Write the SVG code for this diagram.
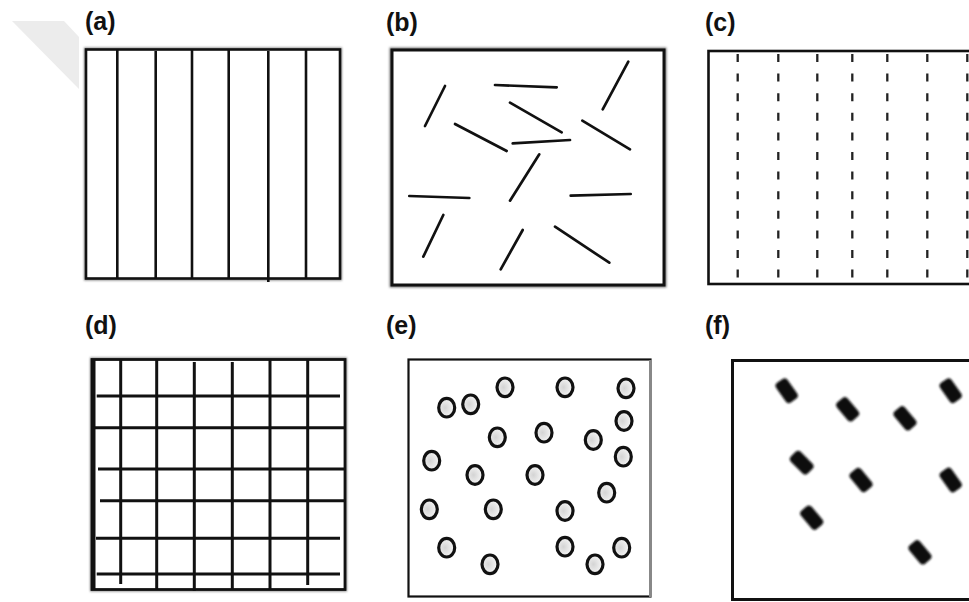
<svg xmlns="http://www.w3.org/2000/svg" width="969" height="602" viewBox="0 0 969 602">
<defs>
<style>
.lbl{font-family:"Liberation Sans",Arial,sans-serif;font-weight:bold;font-size:25px;fill:#111}
.frame{fill:#fff;stroke:#111}
.ln{stroke:#111;stroke-width:2.6;stroke-linecap:butt;fill:none}
.gl{stroke:#111;stroke-width:3;fill:none}
.fib{stroke:#111;stroke-width:2.7;stroke-linecap:round}
.dash{stroke:#222;stroke-width:2.3;stroke-dasharray:8 11.6}
.ring{stroke:#111;stroke-width:3.2}
.blob{fill:#111}
</style>
<filter id="soft" x="-50%" y="-50%" width="200%" height="200%"><feGaussianBlur stdDeviation="1.1"/></filter>
<filter id="shadow" x="-5%" y="-5%" width="110%" height="110%"><feGaussianBlur stdDeviation="1.2"/></filter>
<radialGradient id="rg" cx="0.4" cy="0.5" r="0.6"><stop offset="0" stop-color="#d4d4d4"/><stop offset="1" stop-color="#f8f8f8"/></radialGradient>
</defs>
<rect width="969" height="602" fill="#fff"/>
<polygon points="12,21 64,21 79,37 79,89" fill="#ececec"/>

<g id="panel-a">
<text class="lbl" x="85" y="30">(a)</text>
<rect x="86" y="49.5" width="254" height="229" fill="none" stroke="#888" stroke-width="4" filter="url(#shadow)"/>
<rect class="frame" x="86" y="49.5" width="254" height="229" stroke-width="2.6"/>
<g class="ln">
<line x1="117.3" y1="49.5" x2="117.3" y2="279"/>
<line x1="155.7" y1="51" x2="155.7" y2="279"/>
<line x1="192" y1="49.5" x2="192" y2="279"/>
<line x1="228.7" y1="49.5" x2="228.7" y2="279"/>
<line x1="268.3" y1="51" x2="268.3" y2="282"/>
<line x1="306" y1="49.5" x2="306" y2="279"/>
</g>
</g>

<g id="panel-b">
<text class="lbl" x="386" y="31">(b)</text>
<rect x="392" y="50" width="272" height="235" fill="none" stroke="#777" stroke-width="5" filter="url(#shadow)"/>
<rect class="frame" x="392" y="50" width="272" height="235" stroke-width="3"/>
<g class="fib">
<line x1="425" y1="126" x2="445" y2="86"/>
<line x1="495" y1="85" x2="556.7" y2="87.3"/>
<line x1="602.7" y1="109.3" x2="628.3" y2="61.7"/>
<line x1="510" y1="102.7" x2="561.7" y2="132.3"/>
<line x1="455" y1="124" x2="506.7" y2="151"/>
<line x1="512.7" y1="143.3" x2="570" y2="140"/>
<line x1="582.3" y1="120.7" x2="630" y2="149.3"/>
<line x1="539.3" y1="154.3" x2="510" y2="200.7"/>
<line x1="409.3" y1="196" x2="469.3" y2="198"/>
<line x1="570.7" y1="195.7" x2="630.7" y2="194"/>
<line x1="443.3" y1="215" x2="423.3" y2="256.7"/>
<line x1="522.7" y1="230" x2="500.7" y2="269.3"/>
<line x1="555" y1="226.7" x2="609.3" y2="262.7"/>
</g>
</g>

<g id="panel-c">
<text class="lbl" x="705" y="31">(c)</text>
<rect class="frame" x="708.5" y="51" width="270" height="233" stroke-width="2.6"/>
<g class="dash">
<line x1="737.7" y1="54" x2="737.7" y2="278"/>
<line x1="778.3" y1="54" x2="778.3" y2="278"/>
<line x1="817.3" y1="54" x2="817.3" y2="278"/>
<line x1="852.3" y1="54" x2="852.3" y2="278"/>
<line x1="887.3" y1="54" x2="887.3" y2="278"/>
<line x1="927.3" y1="54" x2="927.3" y2="278"/>
<line x1="967.3" y1="54" x2="967.3" y2="278"/>
</g>
</g>

<g id="panel-d">
<text class="lbl" x="85" y="334">(d)</text>
<rect x="92" y="359.5" width="253" height="230" fill="none" stroke="#888" stroke-width="4" filter="url(#shadow)"/>
<rect class="frame" x="92" y="359.5" width="253" height="230" stroke-width="2.8"/>
<line x1="93.5" y1="360" x2="93.5" y2="589" stroke="#111" stroke-width="4"/>
<g class="gl">
<line x1="120.7" y1="359.5" x2="120.7" y2="584"/>
<line x1="156.7" y1="359.5" x2="156.7" y2="589"/>
<line x1="194.3" y1="362" x2="194.3" y2="591"/>
<line x1="232.3" y1="362" x2="232.3" y2="589"/>
<line x1="270" y1="359.5" x2="270" y2="589"/>
<line x1="307.7" y1="359.5" x2="307.7" y2="585"/>
<line x1="96.7" y1="396" x2="340" y2="396"/>
<line x1="92" y1="427.7" x2="345" y2="427.7"/>
<line x1="98" y1="469" x2="345" y2="469"/>
<line x1="100" y1="500.7" x2="345" y2="500.7"/>
<line x1="96" y1="538.3" x2="340" y2="538.3"/>
<line x1="96.7" y1="574" x2="340" y2="574"/>
</g>
</g>

<g id="panel-e">
<text class="lbl" x="386" y="334">(e)</text>
<rect class="frame" x="408.5" y="359.5" width="242" height="237" stroke-width="2.2"/>
<line x1="650.5" y1="360" x2="650.5" y2="597" stroke="#888" stroke-width="3"/>
<g class="ring" fill="url(#rg)">
<ellipse cx="446.7" cy="407.7" rx="8" ry="9.3"/>
<ellipse cx="470.7" cy="404.3" rx="8" ry="9.3"/>
<ellipse cx="505" cy="387.3" rx="8" ry="9.3"/>
<ellipse cx="565" cy="387.3" rx="8" ry="9.3"/>
<ellipse cx="626" cy="388.3" rx="8" ry="9.3"/>
<ellipse cx="497.3" cy="437.3" rx="8" ry="9.3"/>
<ellipse cx="544" cy="432.7" rx="8" ry="9.3"/>
<ellipse cx="593.3" cy="440" rx="8" ry="9.3"/>
<ellipse cx="624" cy="421" rx="8" ry="9.3"/>
<ellipse cx="431.7" cy="460.7" rx="8" ry="9.3"/>
<ellipse cx="475" cy="475" rx="8" ry="9.3"/>
<ellipse cx="535" cy="475" rx="8" ry="9.3"/>
<ellipse cx="623.3" cy="456.7" rx="8" ry="9.3"/>
<ellipse cx="606.7" cy="492.7" rx="8" ry="9.3"/>
<ellipse cx="429.3" cy="509.3" rx="8" ry="9.3"/>
<ellipse cx="493.3" cy="509.3" rx="8" ry="9.3"/>
<ellipse cx="565" cy="511" rx="8" ry="9.3"/>
<ellipse cx="446.7" cy="547.7" rx="8" ry="9.3"/>
<ellipse cx="490" cy="564.3" rx="8" ry="9.3"/>
<ellipse cx="565" cy="546.7" rx="8" ry="9.3"/>
<ellipse cx="595" cy="564.3" rx="8" ry="9.3"/>
<ellipse cx="621.7" cy="547.7" rx="8" ry="9.3"/>
</g>
</g>

<g id="panel-f">
<text class="lbl" x="705" y="334">(f)</text>
<rect class="frame" x="732.5" y="360.5" width="250" height="239" stroke-width="3"/>
<g class="blob" filter="url(#soft)">
<rect x="-12" y="-7" width="24" height="14" rx="4" transform="translate(786.7 390.7) rotate(55)"/>
<rect x="-12" y="-7" width="24" height="14" rx="4" transform="translate(847.7 409.3) rotate(50)"/>
<rect x="-12" y="-7" width="24" height="14" rx="4" transform="translate(905 418.3) rotate(50)"/>
<rect x="-12" y="-7" width="24" height="14" rx="4" transform="translate(950.7 390.7) rotate(55)"/>
<rect x="-12" y="-7" width="24" height="14" rx="4" transform="translate(801.7 462.7) rotate(45)"/>
<rect x="-12" y="-7" width="24" height="14" rx="4" transform="translate(861 480) rotate(50)"/>
<rect x="-12" y="-7" width="24" height="14" rx="4" transform="translate(950.7 480) rotate(55)"/>
<rect x="-12" y="-7" width="24" height="14" rx="4" transform="translate(811.7 517.7) rotate(50)"/>
<rect x="-12" y="-7" width="24" height="14" rx="4" transform="translate(920 552.3) rotate(50)"/>
</g>
</g>

<g id="connectors"/>
</svg>
